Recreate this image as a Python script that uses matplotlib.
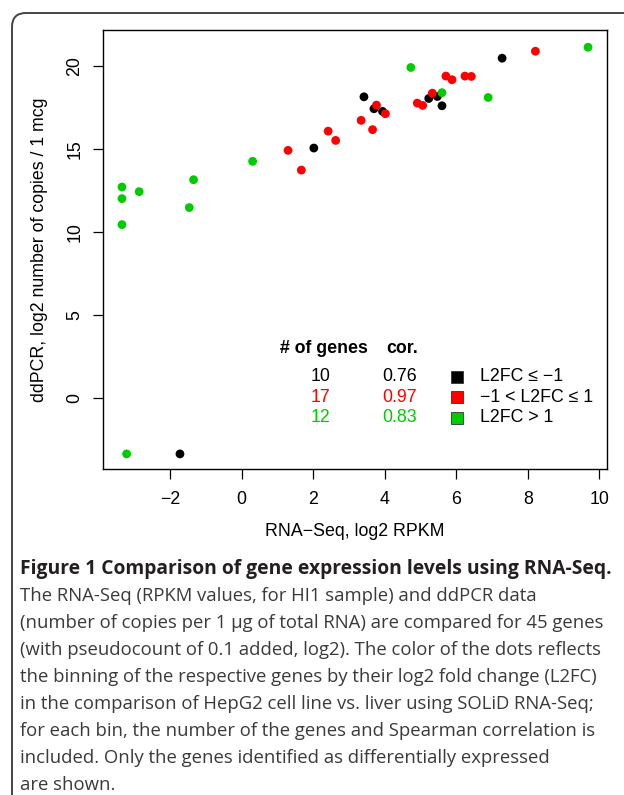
import numpy as np
import matplotlib
matplotlib.use('Agg')
import matplotlib.pyplot as plt
from matplotlib.patches import FancyBboxPatch, Rectangle
from matplotlib.transforms import IdentityTransform

plt.rcParams['font.family'] = ['Liberation Sans', 'DejaVu Sans']

# RNA-Seq (log2 RPKM) vs ddPCR (log2 copies / 1 mcg), by L2FC bin
black_x = [7.28, 5.23, 5.47, 5.60, 3.42, 3.70, 3.94, 2.02, -1.72]
black_y = [20.50, 18.07, 18.19, 17.63, 18.17, 17.45, 17.29, 15.08, -3.37]

red_x = [8.21, 5.71, 5.88, 6.24, 6.42, 5.33, 4.91, 5.06, 3.77, 4.02, 3.34, 3.66, 2.42, 2.63, 1.30, 1.67]
red_y = [20.92, 19.42, 19.20, 19.42, 19.40, 18.39, 17.79, 17.65, 17.67, 17.15, 16.75, 16.19, 16.10, 15.54, 14.94, 13.75]

green_x = [9.68, 4.73, 5.60, 6.89, 0.31, -1.34, -3.34, -2.86, -3.34, -1.46, -3.34, -3.21]
green_y = [21.16, 19.94, 18.42, 18.13, 14.28, 13.17, 12.73, 12.45, 12.03, 11.49, 10.46, -3.37]

bin_labels = ['L2FC \u2264 \u22121', '\u22121 < L2FC \u2264 1', 'L2FC > 1']
bin_colors = ['#000000', '#FF0000', '#00CD00']
n_genes = ['10', '17', '12']
cor_vals = ['0.76', '0.97', '0.83']

x_ticks = [-2, 0, 2, 4, 6, 8, 10]
y_ticks = [0, 5, 10, 15, 20]

W, H = 624, 795
fs = 12.8
fig = plt.figure(figsize=(W / 100, H / 100), dpi=100)
ax = fig.add_axes([103 / W, 1 - 469 / H, (607 - 103) / W, (469 - 30) / H])

for xs, ys, c in [(black_x, black_y, bin_colors[0]), (red_x, red_y, bin_colors[1]), (green_x, green_y, bin_colors[2])]:
    ax.scatter(xs, ys, s=40, color=c, edgecolors='none', zorder=3)

ax.set_xlim(-3.87, 10.21)
ax.set_ylim(-4.28, 22.2)
ax.set_xticks(x_ticks)
ax.set_yticks(y_ticks)
ax.set_yticklabels([str(v) for v in y_ticks], rotation=90, va='center')
ax.tick_params(axis='both', direction='out', length=7, width=0.9, labelsize=fs, colors='black')
ax.tick_params(axis='x', pad=9)
ax.tick_params(axis='y', pad=7)
for sp in ax.spines.values():
    sp.set_linewidth(1.0)
ax.set_xlabel('RNA\u2212Seq, log2 RPKM', fontsize=fs, labelpad=11)
ax.set_ylabel('ddPCR, log2 number of copies / 1 mcg', fontsize=fs, labelpad=13)

# legend-like table
ax.text(2.30, 3.0, '# of genes', fontsize=fs, fontweight='bold', ha='center', va='center')
ax.text(4.48, 3.0, 'cor.', fontsize=fs, fontweight='bold', ha='center', va='center')
row_y = [1.27, 0.06, -1.2]
for i in range(3):
    ax.text(2.20, row_y[i], n_genes[i], fontsize=fs, color=bin_colors[i], ha='center', va='center')
    ax.text(4.42, row_y[i], cor_vals[i], fontsize=fs, color=bin_colors[i], ha='center', va='center')
    ax.add_patch(Rectangle((6.01 - 0.17, row_y[i] - 0.36), 0.34, 0.72, facecolor=bin_colors[i],
                           edgecolor='#333333', linewidth=0.6, zorder=3))
    ax.text(6.66, row_y[i], bin_labels[i], fontsize=fs, color='black', ha='left', va='center')

# frame with rounded top-left corner
frame = FancyBboxPatch((12, -200), 900, H - 13 + 200, boxstyle='round,pad=0,rounding_size=14',
                       transform=IdentityTransform(), facecolor='none', edgecolor='#444444',
                       linewidth=1.4, clip_on=False)
fig.add_artist(frame)

# caption
cap_font = ['Open Sans', 'DejaVu Sans']
fig.text(20 / W, 1 - 569 / H, 'Figure 1 Comparison of gene expression levels using RNA-Seq.',
         fontsize=13.9, fontweight='bold', family=cap_font, color='#231f20', va='center')
cap_lines = [
    'The RNA-Seq (RPKM values, for HI1 sample) and ddPCR data',
    '(number of copies per 1 \u00b5g of total RNA) are compared for 45 genes',
    '(with pseudocount of 0.1 added, log2). The color of the dots reflects',
    'the binning of the respective genes by their log2 fold change (L2FC)',
    'in the comparison of HepG2 cell line vs. liver using SOLiD RNA-Seq;',
    'for each bin, the number of the genes and Spearman correlation is',
    'included. Only the genes identified as differentially expressed',
    'are shown.',
]
for i, line in enumerate(cap_lines):
    fig.text(20 / W, 1 - (596 + 27 * i) / H, line, fontsize=13.3, family=cap_font,
             color='#3a3a3a', va='center')

fig.savefig('out.png', dpi=100)
